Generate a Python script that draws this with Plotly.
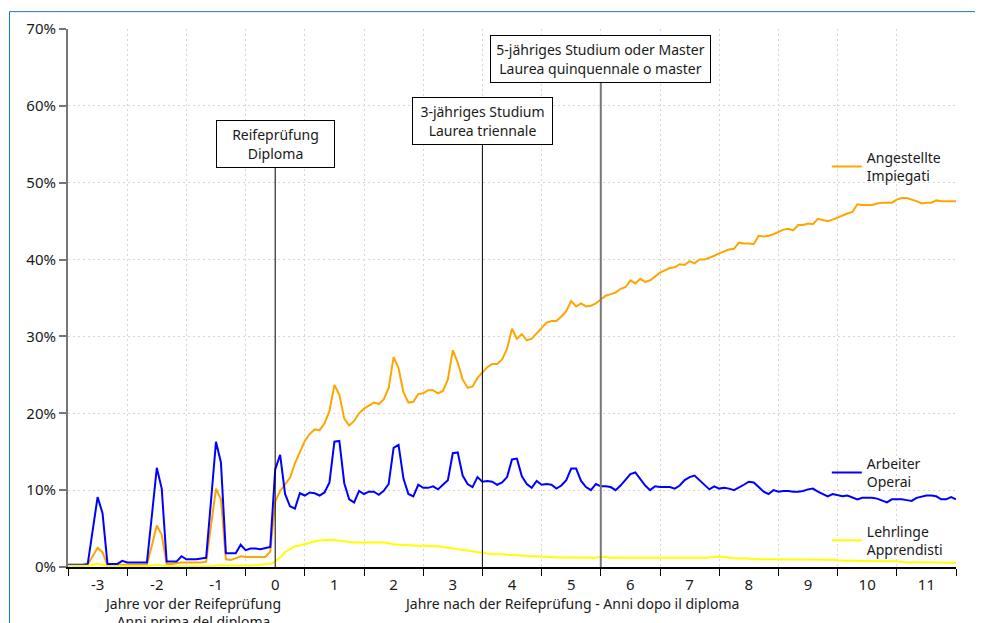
import numpy as np
import plotly.graph_objects as go

# months relative to the diploma (monthly series, -3.5 .. 11.5 years)
months = list(range(-42, 139))

arbeiter = [
    0.3, 0.3, 0.3, 0.3, 0.4, 4.7, 9.1, 7.0, 0.4, 0.4, 0.4, 0.8,
    0.6, 0.6, 0.6, 0.6, 0.6, 6.7, 12.9, 10.2, 0.7, 0.7, 0.7, 1.4,
    1.0, 1.0, 1.0, 1.1, 1.2, 8.7, 16.3, 13.6, 1.8, 1.8, 1.8, 2.9,
    2.2, 2.4, 2.4, 2.3, 2.4, 2.6, 12.7, 14.6, 9.5, 7.9, 7.6, 9.6,
    9.3, 9.7, 9.6, 9.3, 9.7, 11.0, 16.3, 16.4, 10.9, 8.8, 8.4, 9.9,
    9.5, 9.8, 9.8, 9.4, 9.9, 10.8, 15.5, 15.9, 11.5, 9.5, 9.2, 10.7,
    10.3, 10.3, 10.5, 10.1, 10.7, 11.3, 14.8, 14.9, 11.9, 10.8, 10.4, 11.7,
    11.1, 11.2, 11.1, 10.7, 11.0, 11.7, 14.0, 14.1, 11.8, 10.8, 10.3, 11.2,
    10.7, 10.8, 10.7, 10.2, 10.6, 11.3, 12.8, 12.8, 11.2, 10.4, 10.0, 10.8,
    10.5, 10.5, 10.4, 10.0, 10.6, 11.3, 12.1, 12.3, 11.4, 10.6, 10.0, 10.5,
    10.4, 10.4, 10.4, 10.2, 10.6, 11.3, 11.7, 11.9, 11.3, 10.7, 10.1, 10.5,
    10.2, 10.3, 10.2, 10.0, 10.3, 10.7, 11.1, 11.0, 10.4, 9.8, 9.5, 10.0,
    9.8, 9.9, 9.9, 9.8, 9.8, 9.9, 10.1, 10.2, 9.8, 9.5, 9.2, 9.5,
    9.3, 9.2, 9.3, 9.0, 8.8, 9.0, 9.0, 9.0, 8.9, 8.7, 8.4, 8.8,
    8.8, 8.8, 8.7, 8.6, 9.0, 9.2, 9.3, 9.3, 9.2, 8.8, 8.8, 9.1,
    8.8,
]

angestellte = [
    0.2, 0.2, 0.2, 0.2, 0.3, 1.4, 2.5, 1.9, 0.25, 0.3, 0.3, 0.3,
    0.3, 0.3, 0.3, 0.3, 0.3, 2.8, 5.4, 4.2, 0.4, 0.4, 0.5, 0.6,
    0.6, 0.6, 0.6, 0.6, 0.7, 5.4, 10.2, 8.8, 1.0, 0.9, 1.1, 1.4,
    1.3, 1.3, 1.3, 1.3, 1.3, 2.0, 8.5, 9.9, 10.7, 11.6, 13.5, 15.0,
    16.4, 17.3, 17.9, 17.8, 18.7, 20.3, 23.7, 22.4, 19.3, 18.4, 19.0, 20.0,
    20.6, 21.0, 21.4, 21.2, 21.8, 23.3, 27.3, 25.9, 22.7, 21.4, 21.5, 22.5,
    22.6, 23.0, 23.0, 22.6, 22.9, 24.4, 28.2, 26.6, 24.4, 23.3, 23.5, 24.6,
    25.3, 26.0, 26.4, 26.4, 27.0, 28.4, 31.0, 29.7, 30.3, 29.5, 29.7, 30.4,
    31.1, 31.8, 32.0, 32.0, 32.6, 33.3, 34.6, 33.9, 34.3, 33.9, 34.0, 34.3,
    34.8, 35.3, 35.5, 35.7, 36.2, 36.4, 37.3, 36.9, 37.5, 37.1, 37.3, 37.8,
    38.3, 38.6, 38.9, 39.0, 39.4, 39.3, 39.8, 39.5, 40.0, 40.0, 40.2, 40.5,
    40.8, 41.1, 41.3, 41.4, 42.2, 42.1, 42.1, 42.0, 43.1, 43.0, 43.1, 43.3,
    43.6, 43.9, 44.0, 43.8, 44.5, 44.5, 44.7, 44.6, 45.3, 45.1, 45.0, 45.2,
    45.5, 45.8, 46.0, 46.2, 47.2, 47.1, 47.1, 47.1, 47.3, 47.4, 47.4, 47.4,
    47.8, 48.0, 48.0, 47.8, 47.6, 47.3, 47.4, 47.4, 47.7, 47.6, 47.6, 47.6,
    47.6,
]

lehrlinge = [
    0.15, 0.15, 0.15, 0.15, 0.15, 0.3, 0.4, 0.3, 0.1, 0.1, 0.1, 0.1,
    0.1, 0.1, 0.1, 0.1, 0.1, 0.2, 0.3, 0.2, 0.1, 0.1, 0.1, 0.1,
    0.1, 0.1, 0.1, 0.1, 0.1, 0.1, 0.2, 0.2, 0.15, 0.15, 0.15, 0.15,
    0.15, 0.2, 0.25, 0.3, 0.35, 0.4, 0.7, 1.25, 1.95, 2.35, 2.7, 2.8,
    3.0, 3.2, 3.35, 3.45, 3.5, 3.55, 3.5, 3.4, 3.35, 3.25, 3.2, 3.2,
    3.2, 3.2, 3.2, 3.2, 3.2, 3.1, 2.95, 2.9, 2.85, 2.85, 2.8, 2.75,
    2.75, 2.7, 2.7, 2.7, 2.6, 2.5, 2.4, 2.3, 2.2, 2.1, 2.0, 1.95,
    1.85, 1.75, 1.7, 1.7, 1.65, 1.6, 1.55, 1.5, 1.45, 1.4, 1.4, 1.4,
    1.35, 1.3, 1.25, 1.25, 1.25, 1.25, 1.25, 1.2, 1.2, 1.2, 1.2, 1.2,
    1.3, 1.3, 1.2, 1.2, 1.2, 1.2, 1.2, 1.2, 1.2, 1.15, 1.15, 1.15,
    1.15, 1.15, 1.15, 1.15, 1.15, 1.15, 1.17, 1.2, 1.2, 1.2, 1.25, 1.3,
    1.37, 1.3, 1.2, 1.13, 1.1, 1.1, 1.1, 1.0, 1.0, 1.0, 1.0, 1.0,
    1.0, 1.0, 1.0, 0.95, 0.95, 0.95, 0.95, 0.95, 0.95, 0.95, 1.0, 0.95,
    0.87, 0.8, 0.8, 0.8, 0.77, 0.77, 0.77, 0.74, 0.74, 0.74, 0.75, 0.75,
    0.75, 0.65, 0.65, 0.65, 0.6, 0.6, 0.6, 0.58, 0.58, 0.58, 0.55, 0.55,
    0.55,
]

x_ticks = list(range(-3, 12))
y_ticks = list(range(0, 71, 10))

milestones = [0, 3.5, 5.5]
milestone_labels = ["Reifeprüfung<br>Diploma",
                    "3-jähriges Studium<br>Laurea triennale",
                    "5-jähriges Studium oder Master<br>Laurea quinquennale o master"]

series_names = ["Angestellte<br>Impiegati", "Arbeiter<br>Operai", "Lehrlinge<br>Apprendisti"]

FONT = "Noto Sans"
TXT = "#1a1a1a"
GRID = "#d6d6d6"
GDASH = "2px,3px"

years = [m / 12 for m in months]

fig = go.Figure()
fig.add_trace(go.Scatter(x=years, y=angestellte, mode="lines", name=series_names[0],
                         line=dict(color="#FFA500", width=2), legend="legend"))
fig.add_trace(go.Scatter(x=years, y=arbeiter, mode="lines", name=series_names[1],
                         line=dict(color="#0000FF", width=2), legend="legend2"))
fig.add_trace(go.Scatter(x=years, y=lehrlinge, mode="lines", name=series_names[2],
                         line=dict(color="#FFFF00", width=2), legend="legend3"))

# milestone vertical lines
line_tops = [52.0, 55.0, 63.1]
line_cols = ["black", "black", "#777777"]
line_w = [1, 1, 2]
for xm, yt, c, w in zip(milestones, line_tops, line_cols, line_w):
    fig.add_shape(type="line", xref="x", yref="y", x0=xm, x1=xm, y0=0, y1=yt,
                  line=dict(color=c, width=w), layer="above")

# milestone boxes
box_y = [55.0, 58.0, 66.05]
box_w = [109, 131, 211]
for xm, yb, lab, bw in zip(milestones, box_y, milestone_labels, box_w):
    fig.add_annotation(x=xm, y=yb, xref="x", yref="y", text=lab, showarrow=False,
                       font=dict(family=FONT, size=14, color=TXT),
                       bgcolor="white", bordercolor="black", borderwidth=1,
                       borderpad=4, width=bw, height=38, align="center")

# axis titles
fig.add_annotation(x=-1.4, y=-0.047, xref="x", yref="paper", yanchor="top",
                   text="Jahre vor der Reifeprüfung<br>Anni prima del diploma",
                   showarrow=False, font=dict(family=FONT, size=14, color=TXT))
fig.add_annotation(x=5.0, y=-0.047, xref="x", yref="paper", yanchor="top",
                   text="Jahre nach der Reifeprüfung - Anni dopo il diploma",
                   showarrow=False, font=dict(family=FONT, size=14, color=TXT))

# outer blue frame
fig.add_shape(type="rect", xref="paper", yref="paper",
              x0=-0.0659, x1=1.04, y0=-0.12, y1=1.0323,
              line=dict(color="#1f74c4", width=1), layer="below")

leg_common = dict(font=dict(family=FONT, size=14, color=TXT), bgcolor="rgba(0,0,0,0)",
                  xanchor="left", yanchor="middle", itemwidth=30, tracegroupgap=0)
LX = 0.8545
fig.update_layout(
    width=975, height=615,
    margin=dict(l=60, r=27, t=21, b=56),
    paper_bgcolor="white", plot_bgcolor="white",
    font=dict(family=FONT, size=14, color=TXT),
    showlegend=True,
    legend=dict(x=LX, y=0.744, **leg_common),
    legend2=dict(x=LX, y=0.175, **leg_common),
    legend3=dict(x=LX, y=0.049, **leg_common),
    xaxis=dict(range=[-3.5, 11.5], tickmode="array", tickvals=x_ticks,
               ticktext=[str(v) for v in x_ticks],
               ticks="outside", ticklen=3, tickcolor="rgba(0,0,0,0)",
               showgrid=False, zeroline=False, automargin=False,
               showline=True, linecolor="black", linewidth=1.5,
               tickfont=dict(family=FONT, size=15, color=TXT),
               minor=dict(tickmode="linear", tick0=0.5, dtick=1, ticks="outside",
                          ticklen=7, tickcolor="black", tickwidth=1,
                          showgrid=True, gridcolor=GRID, griddash=GDASH, gridwidth=1)),
    yaxis=dict(range=[0, 70], tickmode="array", tickvals=y_ticks,
               ticktext=[f"{v}%" for v in y_ticks],
               ticks="outside", ticklen=7, tickcolor="#777777", tickwidth=1.5,
               showline=True, linecolor="#777777", linewidth=2,
               showgrid=True, gridcolor=GRID, griddash=GDASH, gridwidth=1,
               zeroline=False, automargin=False,
               tickfont=dict(family=FONT, size=15, color=TXT)),
)

fig.write_html("out.html")
